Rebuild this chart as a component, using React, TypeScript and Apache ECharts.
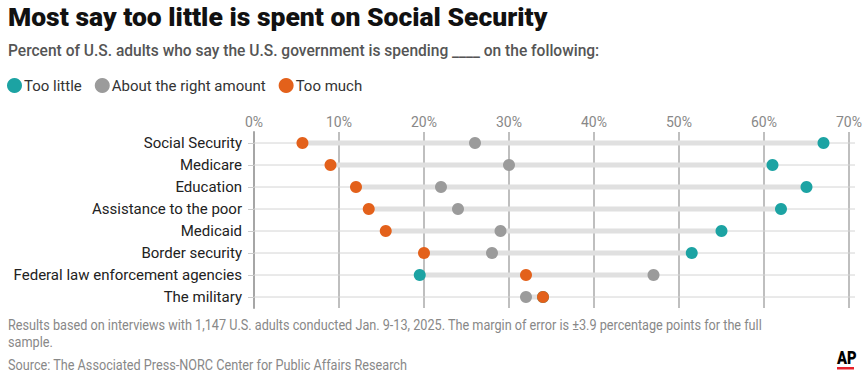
import React, { useEffect, useRef } from "react";
import * as echarts from "echarts";

const categories = [
  "Social Security",
  "Medicare",
  "Education",
  "Assistance to the poor",
  "Medicaid",
  "Border security",
  "Federal law enforcement agencies",
  "The military",
];
const tooLittle = [67, 61, 65, 62, 55, 51.5, 19.5, 34];
const aboutRight = [26, 30, 22, 24, 29, 28, 47, 32];
const tooMuch = [5.7, 9, 12, 13.5, 15.5, 20, 32, 34];
const xTicks = [0, 10, 20, 30, 40, 50, 60, 70];

const TEAL = "#1ca3a3";
const GRAY = "#9b9b9b";
const ORANGE = "#e3611b";

export default function App() {
  const ref = useRef<HTMLDivElement>(null);
  useEffect(() => {
    if (!ref.current) return;
    const chart = echarts.init(ref.current, null, { renderer: "svg" });
    const rangeData = categories.map((c, i) => [
      i,
      Math.min(tooLittle[i], aboutRight[i], tooMuch[i]),
      Math.max(tooLittle[i], aboutRight[i], tooMuch[i]),
    ]);
    const font = "Roboto, 'Noto Sans', sans-serif";
    chart.setOption({
      animation: false,
      textStyle: { fontFamily: font },
      grid: { left: 254, right: 19, top: 132, bottom: 72, containLabel: false },
      legend: {
        left: 7,
        top: 78,
        padding: 0,
        icon: "circle",
        itemWidth: 15,
        itemHeight: 15,
        itemGap: 13,
        textStyle: { fontSize: 15, color: "#333", fontFamily: font, padding: [0, 0, 0, -3] },
        data: ["Too little", "About the right amount", "Too much"],
      },
      xAxis: {
        type: "value",
        position: "top",
        min: 0,
        max: 70,
        interval: 10,
        axisLine: { show: false },
        axisTick: { show: false },
        axisLabel: {
          formatter: (v: number) => (xTicks.includes(v) ? v + "%" : ""),
          fontSize: 14,
          color: "#888",
          margin: 3,
        },
        splitLine: { show: true, lineStyle: { color: "#aaa", width: 1.5 } },
      },
      yAxis: {
        type: "category",
        data: categories,
        inverse: true,
        axisLine: { show: true, lineStyle: { color: "#a6a6a6", width: 2 } },
        axisTick: { show: true, alignWithLabel: true, length: 6, lineStyle: { color: "#ccc" } },
        axisLabel: { fontSize: 15, color: "#222", margin: 12 },
        splitLine: { show: false },
      },
      graphic: [
        {
          type: "text",
          left: 8,
          top: 3,
          style: {
            text: "Most say too little is spent on Social Security",
            fontSize: 26.5,
            fontWeight: 900,
            fontFamily: font,
            fill: "#111",
          },
        },
        {
          type: "text",
          x: 8,
          y: 42,
          scaleX: 0.915,
          style: {
            text: "Percent of U.S. adults who say the U.S. government is spending ____ on the following:",
            fontSize: 17,
            fontWeight: 500,
            fontFamily: font,
            fill: "#555",
          },
        },
        {
          type: "text",
          x: 8,
          y: 318,
          scaleX: 0.905,
          style: {
            text: "Results based on interviews with 1,147 U.S. adults conducted Jan. 9-13, 2025. The margin of error is ±3.9 percentage points for the full",
            fontSize: 14,
            fontFamily: font,
            fill: "#888",
          },
        },
        {
          type: "text",
          x: 8,
          y: 335,
          scaleX: 0.905,
          style: { text: "sample.", fontSize: 14, fontFamily: font, fill: "#888" },
        },
        {
          type: "text",
          x: 8,
          y: 358,
          scaleX: 0.905,
          style: {
            text: "Source: The Associated Press-NORC Center for Public Affairs Research",
            fontSize: 14,
            fontFamily: font,
            fill: "#888",
          },
        },
        {
          type: "text",
          x: 837,
          y: 349,
          scaleX: 0.82,
          style: { text: "AP", fontSize: 18, fontWeight: 900, fontFamily: font, fill: "#000" },
        },
        {
          type: "rect",
          left: 837,
          top: 367,
          shape: { width: 17, height: 2.5 },
          style: { fill: "#e8212b" },
        },
      ],
      series: [
        {
          type: "custom",
          name: "range",
          z: 1,
          clip: false,
          silent: true,
          data: rangeData,
          encode: { x: [1, 2], y: 0 },
          renderItem: (params: any, api: any) => {
            const idx = api.value(0);
            const p1 = api.coord([api.value(1), idx]);
            const p2 = api.coord([api.value(2), idx]);
            const cs = params.coordSys;
            return {
              type: "group",
              children: [
                {
                  type: "line",
                  shape: { x1: cs.x, y1: p1[1], x2: cs.x + cs.width + 6, y2: p1[1] },
                  style: { stroke: "#d4d4d4", lineWidth: 1 },
                },
                {
                  type: "rect",
                  shape: { x: p1[0], y: p1[1] - 2.5, width: p2[0] - p1[0], height: 5 },
                  style: { fill: "#e0e0e0" },
                },
              ],
            };
          },
        },
        {
          type: "scatter",
          name: "Too little",
          z: 3,
          symbolSize: 12,
          itemStyle: { color: TEAL, opacity: 1 },
          data: tooLittle.map((v, i) => [v, i]),
        },
        {
          type: "scatter",
          name: "About the right amount",
          z: 4,
          symbolSize: 12,
          itemStyle: { color: GRAY, opacity: 1 },
          data: aboutRight.map((v, i) => [v, i]),
        },
        {
          type: "scatter",
          name: "Too much",
          z: 5,
          symbolSize: 12,
          itemStyle: { color: ORANGE, opacity: 1 },
          data: tooMuch.map((v, i) => [v, i]),
        },
      ],
    });
    return () => chart.dispose();
  }, []);
  return <div ref={ref} style={{ width: 868, height: 380, position: "fixed", left: 0, top: 0, background: "#fff" }} />;
}
